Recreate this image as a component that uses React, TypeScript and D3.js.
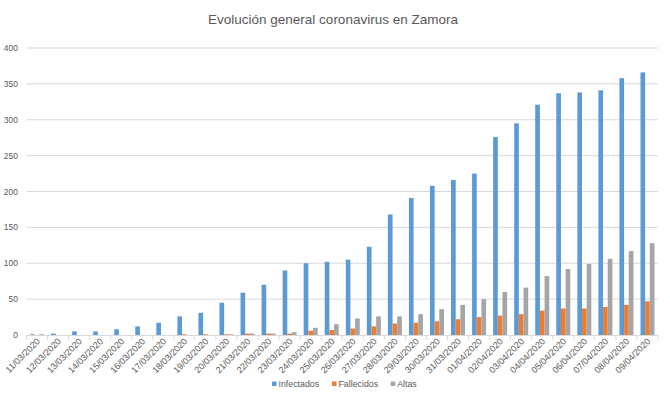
import React, { useEffect, useRef } from 'react';
import * as d3 from 'd3';

const dates = [
  '11/03/2020', '12/03/2020', '13/03/2020', '14/03/2020', '15/03/2020', '16/03/2020',
  '17/03/2020', '18/03/2020', '19/03/2020', '20/03/2020', '21/03/2020', '22/03/2020',
  '23/03/2020', '24/03/2020', '25/03/2020', '26/03/2020', '27/03/2020', '28/03/2020',
  '29/03/2020', '30/03/2020', '31/03/2020', '01/04/2020', '02/04/2020', '03/04/2020',
  '04/04/2020', '05/04/2020', '06/04/2020', '07/04/2020', '08/04/2020', '09/04/2020'
];

const infectados = [1, 2, 5, 5, 8, 12, 17, 26, 31, 45, 59, 70, 90, 100, 102, 105, 123, 168, 191, 208, 216, 225, 276, 295, 321, 337, 338, 341, 358, 366];
const fallecidos = [0, 0, 0, 0, 0, 0, 0, 1, 1, 1, 2, 2, 2, 6, 7, 9, 12, 16, 17, 19, 22, 25, 27, 29, 34, 37, 37, 39, 42, 47];
const altas = [1, 0, 0, 0, 0, 0, 0, 0, 0, 1, 2, 2, 4, 10, 15, 23, 26, 26, 29, 36, 42, 50, 60, 66, 82, 92, 99, 106, 117, 128];

const seriesNames = ['Infectados', 'Fallecidos', 'Altas'];
const seriesColors = ['#5b9bd5', '#ed7d31', '#a5a5a5'];
const yTicks = [0, 50, 100, 150, 200, 250, 300, 350, 400];

const W = 670, H = 395;
const FONT = '"Liberation Sans", Arial, sans-serif';

export default function App() {
  const ref = useRef<SVGSVGElement>(null);

  useEffect(() => {
    const svg = d3.select(ref.current);
    svg.selectAll('*').remove();

    const left = 26.5, right = 658, top = 48, bottom = 335;
    const series = [infectados, fallecidos, altas];

    const x = d3.scaleBand().domain(dates).range([left, right]).paddingInner(0.335).paddingOuter(0.167);
    const xOuter = d3.scaleBand().domain(dates).range([left, right]);
    const xs = d3.scaleBand().domain(seriesNames).range([0, x.bandwidth()]);
    const y = d3.scaleLinear().domain([0, 400]).range([bottom, top]);

    svg.append('rect').attr('width', W).attr('height', H).attr('fill', '#fff');

    svg.append('text')
      .attr('x', 333).attr('y', 24)
      .attr('text-anchor', 'middle')
      .attr('font-family', FONT).attr('font-size', 13.5)
      .attr('fill', '#595959')
      .text('Evolución general coronavirus en Zamora');

    // gridlines + y labels
    svg.append('g').selectAll('line')
      .data(yTicks.filter(t => t > 0))
      .enter().append('line')
      .attr('x1', left).attr('x2', right)
      .attr('y1', d => y(d)).attr('y2', d => y(d))
      .attr('stroke', '#d9d9d9').attr('stroke-width', 1);

    svg.append('g').selectAll('text')
      .data(yTicks)
      .enter().append('text')
      .attr('x', 18).attr('y', d => y(d) + 3)
      .attr('text-anchor', 'end')
      .attr('font-family', FONT).attr('font-size', 8.5)
      .attr('fill', '#595959')
      .text(d => d);

    // bars
    series.forEach((vals, si) => {
      svg.append('g').selectAll('rect')
        .data(vals)
        .enter().append('rect')
        .attr('x', (d, i) => (x(dates[i]) as number) + (xs(seriesNames[si]) as number))
        .attr('width', xs.bandwidth())
        .attr('y', d => y(d))
        .attr('height', d => bottom - y(d))
        .attr('fill', seriesColors[si]);
    });

    // x axis
    svg.append('line')
      .attr('x1', left).attr('x2', right)
      .attr('y1', bottom + 0.5).attr('y2', bottom + 0.5)
      .attr('stroke', '#d9d9d9');

    const bounds = dates.map(d => xOuter(d) as number).concat([right]);
    svg.append('g').selectAll('line')
      .data(bounds)
      .enter().append('line')
      .attr('x1', d => d).attr('x2', d => d)
      .attr('y1', bottom).attr('y2', bottom + 5)
      .attr('stroke', '#d9d9d9');

    svg.append('g').selectAll('text')
      .data(dates)
      .enter().append('text')
      .attr('transform', d => {
        const cx = (xOuter(d) as number) + xOuter.bandwidth() / 2 + 3.5;
        return 'translate(' + cx + ',' + (bottom + 7) + ') rotate(-45)';
      })
      .attr('text-anchor', 'end')
      .attr('font-family', FONT).attr('font-size', 9)
      .attr('fill', '#595959')
      .text(d => d);

    // legend
    const legendX = [272, 332, 390.7];
    const lg = svg.append('g');
    seriesNames.forEach((name, i) => {
      lg.append('rect')
        .attr('x', legendX[i]).attr('y', 381.5)
        .attr('width', 4.5).attr('height', 4.5)
        .attr('fill', seriesColors[i]);
      lg.append('text')
        .attr('x', legendX[i] + 6.5).attr('y', 387)
        .attr('font-family', FONT).attr('font-size', 8.8)
        .attr('fill', '#595959')
        .text(name);
    });
  }, []);

  return (
    <svg ref={ref} width={W} height={H}
      style={{ position: 'absolute', left: 0, top: 0, display: 'block' }} />
  );
}
